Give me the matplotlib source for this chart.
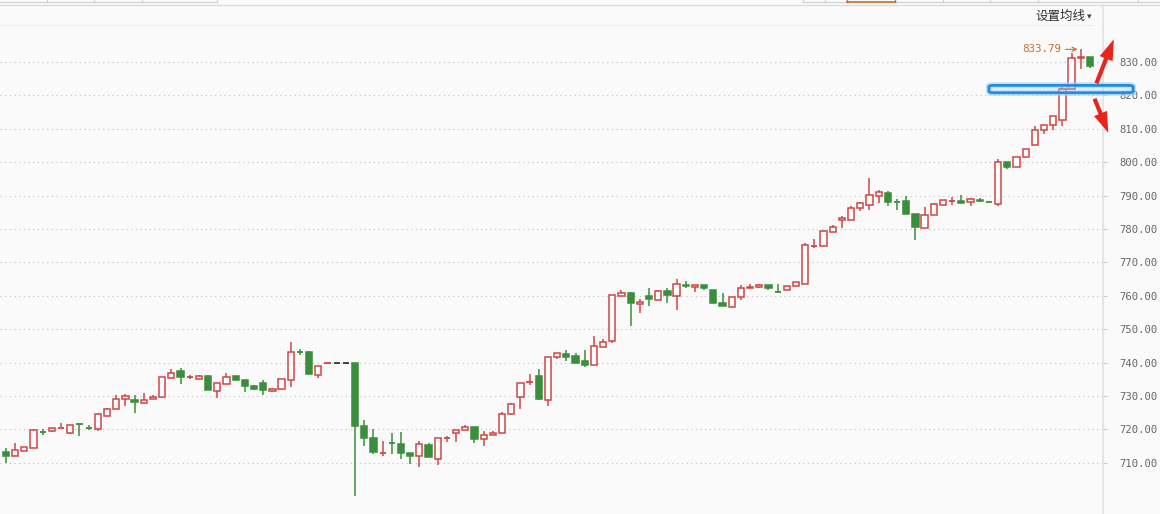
import matplotlib
matplotlib.use('Agg')
import matplotlib.pyplot as plt
from matplotlib.patches import Rectangle, FancyBboxPatch, FancyArrowPatch
from matplotlib.lines import Line2D

# ---------------- data ----------------
opens = [713.1, 711.9, 713.4, 714.5, 719.4, 719.4, 720.4, 718.9, 721.6, 720.6,
         720.2, 724.0, 726.1, 729.1, 728.9, 727.9, 729.0, 729.7, 735.5, 737.5,
         735.6, 735.2, 735.9, 731.5, 733.6, 735.9, 734.7, 732.9, 733.8, 731.4,
         732.2, 734.8, 743.3, 743.3, 736.3, 739.8, 739.8, 739.8, 739.8, 721.0,
         717.3, 713.0, 715.9, 715.5, 712.8, 711.9, 715.2, 711.0, 717.4, 718.8,
         719.7, 720.6, 717.2, 718.2, 718.8, 724.5, 729.7, 734.1, 736.0, 728.9,
         741.8, 742.6, 742.0, 740.5, 739.2, 744.8, 746.4, 759.9, 760.9, 757.5,
         760.0, 758.7, 761.5, 759.9, 763.3, 762.5, 763.3, 761.8, 757.9, 756.6,
         759.6, 762.2, 762.5, 763.1, 761.2, 761.7, 762.9, 763.5, 775.0, 774.9,
         779.1, 782.7, 782.7, 786.3, 787.2, 789.9, 790.9, 788.0, 788.3, 784.4,
         780.3, 784.3, 787.3, 788.4, 788.5, 788.1, 788.8, 788.0, 787.5, 800.0,
         798.5, 801.5, 805.2, 809.5, 811.0, 812.5, 821.9, 831.1, 831.5]
highs = [714.5, 715.8, 714.6, 720.0, 720.0, 720.3, 721.8, 721.2, 721.6, 721.2,
         725.0, 726.5, 730.4, 730.6, 730.4, 730.9, 730.4, 735.7, 738.0, 738.3,
         736.2, 736.2, 736.2, 733.8, 736.8, 735.9, 734.7, 733.2, 734.7, 732.5,
         735.0, 746.3, 744.0, 743.6, 739.1, 739.8, 739.8, 739.8, 739.8, 722.8,
         720.1, 716.6, 718.8, 719.2, 712.8, 716.5, 715.8, 717.3, 718.0, 719.7,
         721.3, 720.6, 719.5, 719.6, 725.2, 728.0, 734.0, 736.6, 738.1, 741.6,
         742.8, 743.8, 742.9, 743.8, 748.0, 747.0, 760.3, 761.8, 761.2, 759.1,
         762.4, 761.6, 762.4, 765.1, 764.5, 763.3, 763.3, 761.8, 760.9, 759.7,
         763.3, 763.6, 763.4, 763.1, 763.6, 763.0, 764.2, 775.7, 776.9, 779.7,
         781.1, 783.9, 786.9, 788.2, 795.3, 791.6, 791.5, 788.9, 790.0, 784.4,
         786.5, 787.9, 788.6, 789.6, 790.3, 789.2, 789.4, 788.1, 801.0, 800.0,
         801.5, 803.9, 810.7, 811.0, 813.7, 822.4, 832.7, 833.79, 831.5]
lows = [710.0, 711.9, 713.4, 714.5, 718.3, 719.2, 720.4, 718.5, 718.0, 719.8,
        719.5, 724.0, 726.1, 726.9, 725.0, 727.9, 729.0, 729.7, 735.5, 733.7,
        735.0, 735.0, 731.8, 729.5, 733.6, 734.8, 731.2, 731.8, 730.2, 731.2,
        732.2, 732.7, 742.3, 736.5, 735.3, 739.8, 739.8, 739.8, 700.1, 715.1,
        712.5, 712.0, 712.5, 711.0, 709.5, 708.8, 711.6, 709.2, 716.3, 716.3,
        719.7, 716.0, 715.1, 718.2, 718.8, 724.2, 726.0, 733.2, 728.7, 726.9,
        741.1, 740.5, 739.9, 738.7, 739.2, 744.8, 745.8, 759.9, 751.1, 755.0,
        756.8, 758.7, 757.7, 755.6, 762.2, 761.0, 761.6, 757.7, 756.8, 756.5,
        758.6, 762.2, 762.3, 761.6, 761.1, 761.7, 762.9, 763.5, 774.3, 774.9,
        779.1, 780.3, 782.7, 785.4, 785.7, 787.8, 786.9, 785.7, 784.5, 776.7,
        780.3, 784.3, 787.3, 787.2, 787.7, 786.9, 788.0, 787.9, 787.0, 798.1,
        798.5, 801.5, 805.2, 808.5, 809.7, 810.9, 821.9, 827.9, 828.1]
closes = [711.9, 713.8, 714.6, 719.7, 719.3, 720.3, 720.6, 721.2, 721.5, 720.5,
          724.5, 726.1, 729.1, 730.1, 728.1, 728.9, 729.7, 735.7, 737.0, 735.7,
          735.8, 736.0, 731.8, 733.8, 735.8, 734.8, 733.0, 732.0, 731.8, 732.2,
          735.0, 743.3, 743.2, 736.5, 739.1, 739.8, 739.8, 739.8, 721.0, 717.5,
          713.3, 713.1, 715.8, 713.0, 712.1, 715.5, 711.6, 717.3, 717.6, 719.7,
          720.6, 717.2, 718.3, 718.8, 724.6, 727.6, 734.0, 734.3, 729.0, 741.6,
          742.8, 741.8, 739.9, 739.3, 745.0, 746.1, 760.3, 760.9, 757.7, 758.0,
          759.0, 761.4, 760.2, 763.5, 762.8, 763.3, 762.2, 757.7, 756.8, 759.7,
          762.3, 762.6, 763.1, 762.2, 761.1, 763.0, 764.2, 775.1, 775.1, 779.3,
          780.7, 783.3, 786.4, 787.7, 790.3, 791.1, 788.0, 787.9, 784.5, 780.6,
          784.3, 787.4, 788.6, 788.5, 787.7, 789.0, 788.3, 787.9, 800.0, 798.5,
          801.5, 803.9, 809.7, 811.0, 813.7, 821.9, 831.1, 831.5, 828.7]
y_ticks = [710, 720, 730, 740, 750, 760, 770, 780, 790, 800, 810, 820, 830]
menu_label = "设置均线"
highlight_level = (820.8, 823.0)   # blue box marks this price band

# ---------------- styling ----------------
RED = '#cf4545'
GREEN = '#3a8e3c'
BLACK = '#333333'
BG = '#fafafa'
W, H = 1160, 514

plt.rcParams['font.family'] = ['DejaVu Sans']
fig = plt.figure(figsize=(W / 100, H / 100), dpi=100, facecolor=BG)

def fx(px):
    return px / W

def fy(py):
    return 1 - py / H

ax = fig.add_axes([0, 0, fx(1103), (514 - 26) / H])
ax.set_facecolor(BG)
ax.set_ylim(694.67, 840.78)
ax.set_xlim(-0.653, 119.42)

n = len(opens)
bw = 0.68
for i in range(n):
    o, h, l, c = opens[i], highs[i], lows[i], closes[i]
    if c > o:
        col, hollow = RED, True
    elif c < o:
        col, hollow = GREEN, False
    else:
        prev = closes[i - 1] if i > 0 else c
        col = RED if c > prev else (GREEN if c < prev else BLACK)
        hollow = False
    top, bot = max(o, c), min(o, c)
    ax.vlines(i, top, h, color=col, lw=1.1, zorder=3)
    ax.vlines(i, l, bot, color=col, lw=1.1, zorder=3)
    if top - bot < 0.25:
        ax.hlines((top + bot) / 2, i - bw / 2, i + bw / 2, color=col, lw=1.3, zorder=4)
    else:
        ax.add_patch(Rectangle((i - bw / 2, bot), bw, top - bot,
                               facecolor='white' if hollow else col,
                               edgecolor=col, lw=1.1, zorder=4))

# grid and axis
ax.set_yticks(y_ticks)
ax.set_yticklabels([f"{v:.2f}" for v in y_ticks])
ax.yaxis.tick_right()
ax.tick_params(axis='y', length=3, color='#cccccc', labelcolor='#666666',
               labelsize=7.6, pad=9)
for lab in ax.get_yticklabels():
    lab.set_family('DejaVu Sans Mono')
ax.set_xticks([])
ax.yaxis.grid(True, linestyle=(0, (1, 3.2)), color='#bdbdbd', lw=0.8)
ax.set_axisbelow(True)
for s in ['top', 'left', 'bottom']:
    ax.spines[s].set_visible(False)
ax.spines['right'].set_color('#e2e2e2')
ax.spines['right'].set_linewidth(1.2)
ax.spines['right'].set_zorder(1)

# peak annotation
pk = max(range(n), key=lambda k: highs[k])
ax.annotate(f"{highs[pk]:.2f}", xy=(pk - 0.35, highs[pk]), xytext=(pk - 2.1, highs[pk]),
            ha='right', va='center', color='#c8702a', fontsize=7.8,
            family='DejaVu Sans Mono',
            arrowprops=dict(arrowstyle='->', color='#c8702a', lw=0.8,
                            shrinkA=1, shrinkB=0), zorder=6)

# blue highlight box
x0 = pk - 10.0
x1 = pk + 5.7
for lw_, col_, a_ in [(4.5, '#9fd0f5', 0.6), (2.0, '#1f8ce6', 1.0)]:
    ax.add_patch(FancyBboxPatch((x0, highlight_level[0]), x1 - x0,
                                highlight_level[1] - highlight_level[0],
                                boxstyle='round,pad=0,rounding_size=0.5',
                                mutation_aspect=0.9,
                                facecolor='none', edgecolor=col_, lw=lw_, alpha=a_,
                                clip_on=False, zorder=7))

# red arrows
arrow_style = 'simple,head_length=1.5,head_width=1.0,tail_width=0.3'
for (xa, ya), (xb, yb) in [((pk + 1.7, 823.6), (pk + 3.6, 836.8)),
                           ((pk + 1.5, 819.0), (pk + 3.0, 808.8))]:
    ax.add_patch(FancyArrowPatch((xa, ya), (xb, yb), arrowstyle=arrow_style,
                                 mutation_scale=10, color='#e8251c', lw=0,
                                 shrinkA=0, shrinkB=0,
                                 clip_on=False, zorder=8))

# ---------------- frame / header decorations ----------------
def fline(x0p, y0p, x1p, y1p, color='#dddddd', lw=1.0):
    fig.add_artist(Line2D([fx(x0p), fx(x1p)], [fy(y0p), fy(y1p)],
                          color=color, lw=lw, transform=fig.transFigure, zorder=0))

fline(0, 4.5, W, 4.5, '#dcdcdc', 1.0)
fline(0, 26, 1093, 26, '#ebebeb', 1.2)
fline(1103, 4.5, 1103, 26, '#e2e2e2', 1.2)
# tab strip remnants at top
fline(0, 1.8, 217, 1.8, '#cfcfcf', 0.8)
for xp in [47, 94, 142, 217]:
    fline(xp, 0, xp, 2, '#cfcfcf', 0.8)
fline(803, 1.8, 1160, 1.8, '#cfcfcf', 0.8)
for xp in [803, 825, 943, 990, 1038, 1138]:
    fline(xp, 0, xp, 2, '#cfcfcf', 0.8)
fline(847, 2, 895, 2, '#c8702a', 1.2)
fline(847, 0, 847, 2, '#c8702a', 1.0)
fline(895, 0, 895, 2, '#c8702a', 1.0)

fig.text(fx(1035), fy(16), menu_label, ha='left', va='center', fontsize=9,
         color='#333333', family=['Noto Sans CJK SC', 'DejaVu Sans'])
fig.text(fx(1087), fy(16.5), '▾', ha='left', va='center', fontsize=6.5,
         color='#444444', family='DejaVu Sans')

fig.savefig('out.png', dpi=100, facecolor=BG)
